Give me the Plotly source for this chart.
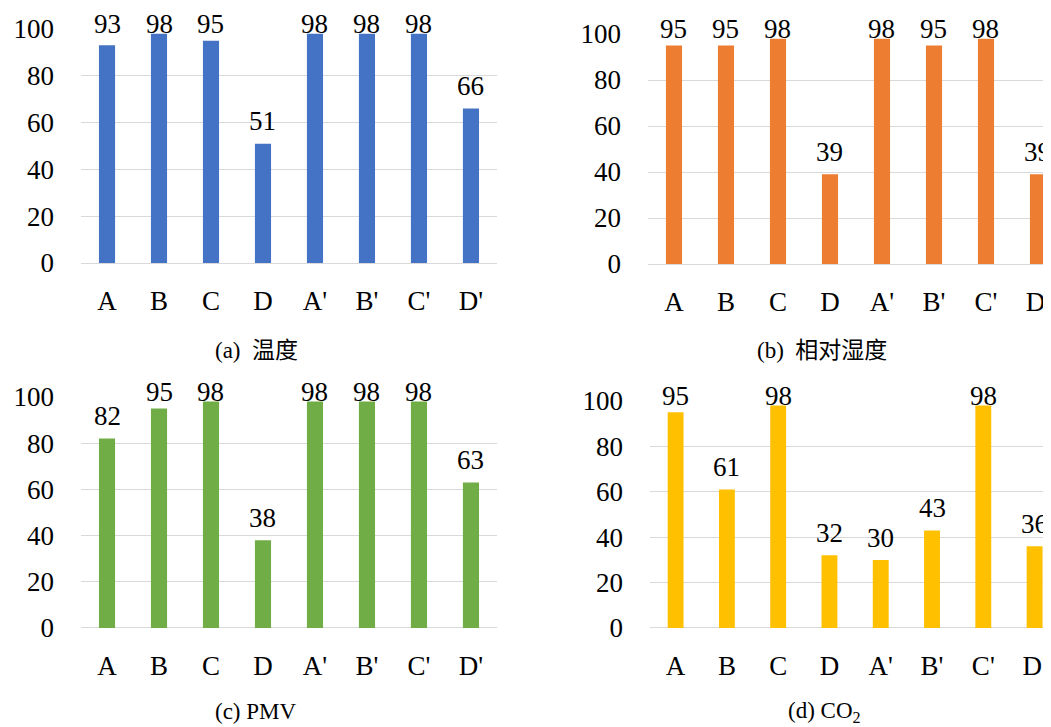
import plotly.graph_objects as go

# categories and values
categories = ["A", "B", "C", "D", "A'", "B'", "C'", "D'"]
temp_vals = [93, 98, 95, 51, 98, 98, 98, 66]
rh_vals = [95, 95, 98, 39, 98, 95, 98, 39]
pmv_vals = [82, 95, 98, 38, 98, 98, 98, 63]
co2_vals = [95, 61, 98, 32, 30, 43, 98, 36]
y_ticks = [0, 20, 40, 60, 80, 100]

captions = ["(a)  温度", "(b)  相对湿度", "(c) PMV", "(d) CO<sub>2</sub>"]
colors = ["#4472C4", "#ED7D31", "#70AD47", "#FFC000"]

# the page body has an 8px margin, so the figure is 8px smaller and offset
W, H = 1043, 719

# panel geometry (paper coords)
panels = [
    dict(x=[0.0700, 0.4688], y=[0.6453, 0.9708], xr=[-0.5, 7.5], cap=(0.2378, 0.5243)),
    dict(x=[0.6136, 1.0], y=[0.6439, 0.9638], xr=[-0.5, 7.25], cap=(0.7804, 0.5243)),
    dict(x=[0.0700, 0.4688], y=[0.1377, 0.4590], xr=[-0.5, 7.5], cap=(0.2378, 0.0215)),
    dict(x=[0.6155, 1.0], y=[0.1377, 0.4534], xr=[-0.5, 7.32], cap=(0.7824, 0.0215)),
]

serif = "Liberation Serif, Times New Roman, Noto Sans CJK SC, serif"

fig = go.Figure()
series = [temp_vals, rh_vals, pmv_vals, co2_vals]
for i, (vals, p) in enumerate(zip(series, panels)):
    n = "" if i == 0 else str(i + 1)
    fig.add_trace(go.Bar(
        x=categories, y=vals, xaxis="x" + n, yaxis="y" + n,
        marker=dict(color=colors[i], line=dict(width=0)),
        width=0.31, showlegend=False,
    ))
    # data labels like Excel: a small gap above the bar, but kept inside the plot top
    for c, v in zip(categories, vals):
        fig.add_annotation(
            x=c, y=min(v + 5, 97.5), xref="x" + n, yref="y" + n,
            text=str(v), showarrow=False, xanchor="center", yanchor="bottom",
            yshift=-6, font=dict(family=serif, size=27, color="#000000"),
        )
    fig.layout["xaxis" + n] = dict(
        domain=p["x"], anchor="y" + n, range=p["xr"], type="category",
        showgrid=False, showline=False, zeroline=False, ticks="",
        tickfont=dict(family=serif, size=27, color="#000000"),
        ticklabelstandoff=19, automargin=False,
    )
    fig.layout["yaxis" + n] = dict(
        domain=p["y"], anchor="x" + n, range=[0, 100],
        tickvals=y_ticks, showgrid=True, gridcolor="#D9D9D9", gridwidth=1.3,
        zeroline=True, zerolinecolor="#D9D9D9", zerolinewidth=1.3,
        showline=False, ticks="",
        tickfont=dict(family=serif, size=27, color="#000000"),
        ticklabelstandoff=26, automargin=False,
    )
    fig.add_annotation(
        x=p["cap"][0], y=p["cap"][1], xref="paper", yref="paper",
        text=captions[i], showarrow=False, xanchor="center", yanchor="middle",
        font=dict(family=serif, size=23, color="#000000"),
    )

fig.update_layout(
    width=W, height=H,
    margin=dict(l=0, r=0, t=0, b=0),
    paper_bgcolor="white", plot_bgcolor="white",
    bargap=0.69,
)

fig.write_html("out.html")
